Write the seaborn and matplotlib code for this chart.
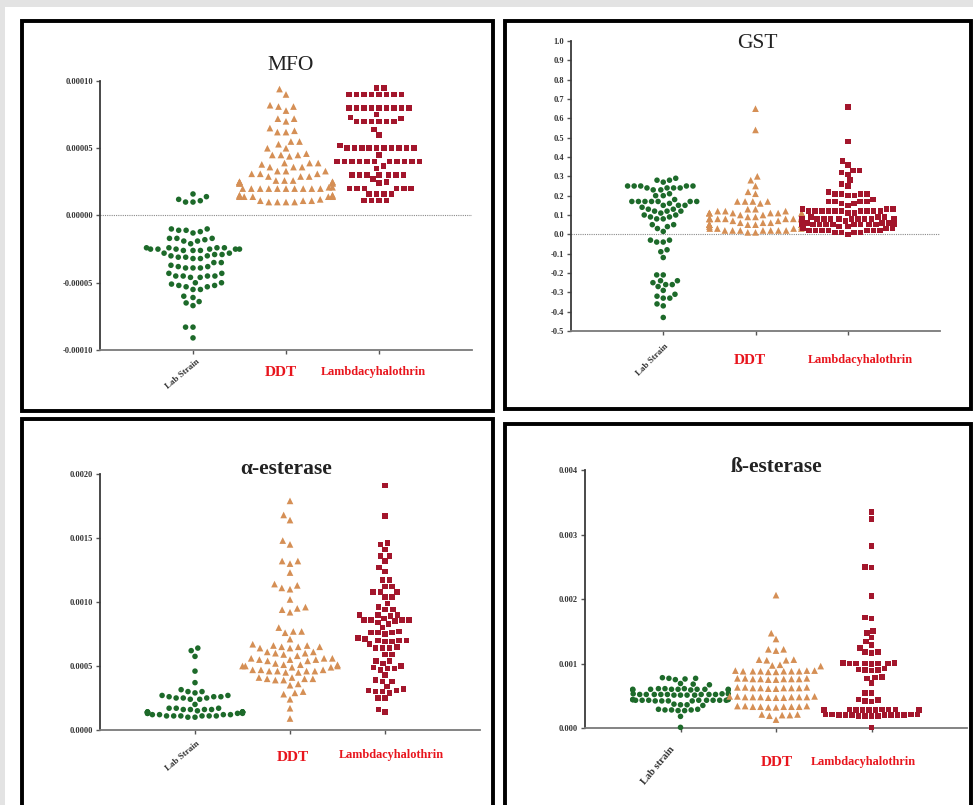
import numpy as np
import pandas as pd
import matplotlib
matplotlib.use("Agg")
import matplotlib.pyplot as plt
from matplotlib.patches import Rectangle
import seaborn as sns

SERIF = "Liberation Serif"
plt.rcParams["font.family"] = [SERIF, "DejaVu Serif"]

categories = ["Lab Strain", "DDT", "Lambdacyhalothrin"]

# ---------------- MFO (values x 1e-5) ----------------
mfo_lab = [1.6, 1.4, 1.2, 1.1, 1.0, 1.0,
           -1.0, -1.1, -1.3, -1.2, -1.1, -1.0,
           -1.7, -1.8, -1.9, -2.1, -1.9, -1.7, -1.7,
           -2.4, -2.4, -2.5, -2.5, -2.5, -2.6, -2.6, -2.6, -2.5, -2.5, -2.5, -2.4, -2.4,
           -2.8, -2.9, -3.0, -3.1, -3.2, -3.2, -3.1, -3.0, -2.9, -2.8,
           -3.5, -3.8, -3.9, -3.9, -3.9, -3.8, -3.7, -3.5,
           -4.3, -4.5, -4.5, -4.6, -4.6, -4.5, -4.5, -4.3,
           -5.0, -5.2, -5.3, -5.3, -5.2, -5.1, -5.0,
           -5.5, -5.5,
           -6.0, -6.1, -6.4, -6.5, -6.7,
           -8.3, -8.3, -9.1]
mfo_ddt = [9.4, 9.0, 8.2, 8.1, 8.1, 7.8, 7.2, 7.2, 7.0, 6.5, 6.2, 6.2, 6.3,
           5.5, 5.3, 5.5, 5.0, 5.0, 4.5, 4.5, 4.6, 4.5, 4.4,
           3.9, 3.9, 3.6, 3.6, 3.6, 3.8, 3.9,
           3.3, 3.1, 3.1, 2.9, 2.9, 2.9, 3.1, 3.3, 3.3,
           2.6, 2.5, 2.4, 2.5, 2.4, 2.4, 2.5, 2.4, 2.5, 2.4, 2.5, 2.6, 2.6,
           2.0, 2.0, 2.0, 2.1, 2.0, 2.0, 2.0, 2.0, 2.1, 2.0, 2.0, 2.0,
           1.4, 1.4, 1.5, 1.4, 1.4, 1.4, 1.4, 1.5, 1.4, 1.5, 1.5,
           1.1, 1.1, 1.0, 1.0, 1.0, 1.0, 1.1, 1.2]
mfo_lcy = [9.5, 9.5,
           9.0, 9.0, 9.0, 9.0, 9.0, 9.0, 9.0, 9.0,
           8.0, 8.0, 8.0, 8.0, 8.0, 8.0, 8.0, 8.0, 8.0,
           7.5, 7.2, 7.0, 7.0, 7.0, 7.0, 7.0, 7.0, 7.3,
           6.4, 6.0, 5.2,
           5.0, 5.0, 5.0, 5.0, 5.0, 5.0, 5.0, 5.0, 5.0, 5.0,
           4.5,
           4.0, 4.0, 4.0, 4.0, 4.0, 4.0, 4.0, 4.0, 4.0, 4.0, 4.0, 3.7, 3.5,
           3.0, 3.0, 3.0, 3.0, 3.0, 3.0, 3.0,
           2.7, 2.5, 2.4,
           2.0, 2.0, 2.0, 2.0, 2.0, 2.0,
           1.6, 1.6, 1.6, 1.6,
           1.1, 1.1, 1.1, 1.1]

# ---------------- GST ----------------
gst_lab = [0.28, 0.27, 0.28, 0.29, 0.24, 0.25, 0.24, 0.25, 0.25, 0.24, 0.25, 0.24, 0.25,
           0.23, 0.21, 0.23, 0.20, 0.20, 0.18,
           0.17, 0.17, 0.17, 0.17, 0.16, 0.17, 0.17, 0.17,
           0.15, 0.15, 0.14, 0.13, 0.12, 0.12, 0.13, 0.15,
           0.11, 0.10, 0.09, 0.12, 0.09, 0.10, 0.08, 0.08,
           0.05, 0.04, 0.03, 0.05, 0.015,
           -0.03, -0.04, -0.03, -0.04, -0.08, -0.09, -0.12,
           -0.21, -0.21, -0.24, -0.25, -0.26, -0.27, -0.26, -0.24, -0.29,
           -0.32, -0.33, -0.33, -0.31, -0.36, -0.37, -0.43]
gst_ddt = [0.65, 0.54, 0.30, 0.28, 0.25, 0.22, 0.21, 0.17, 0.17, 0.16, 0.17, 0.17, 0.13, 0.13, 0.12,
           0.11, 0.12, 0.11, 0.11, 0.10, 0.11, 0.11, 0.10, 0.11, 0.12, 0.11, 0.11,
           0.08, 0.08, 0.09, 0.08, 0.07, 0.08, 0.08, 0.09, 0.08, 0.07, 0.08, 0.08, 0.09, 0.08, 0.08,
           0.05, 0.05, 0.06, 0.05, 0.04, 0.05, 0.05, 0.06, 0.05, 0.04, 0.05, 0.05, 0.06, 0.05, 0.05,
           0.03, 0.02, 0.02, 0.03, 0.02, 0.01, 0.02, 0.01, 0.02, 0.03, 0.02, 0.02, 0.03]
gst_lcy = [0.66, 0.48, 0.38, 0.36, 0.33, 0.32, 0.31, 0.33, 0.28, 0.26, 0.25,
           0.22, 0.20, 0.21, 0.21, 0.21, 0.21, 0.20, 0.18,
           0.16, 0.17, 0.17, 0.17, 0.17, 0.15, 0.16,
           0.12, 0.12, 0.13, 0.12, 0.11, 0.12, 0.12, 0.13, 0.12, 0.11, 0.12, 0.12, 0.13, 0.12, 0.12,
           0.08, 0.09, 0.08, 0.08, 0.07, 0.08, 0.09, 0.08, 0.08, 0.07, 0.08, 0.09, 0.08, 0.08, 0.08,
           0.05, 0.05, 0.06, 0.05, 0.04, 0.05, 0.05, 0.06, 0.05, 0.04, 0.05, 0.05, 0.06, 0.05, 0.05,
           0.02, 0.02, 0.03, 0.02, 0.01, 0.02, 0.01, 0.00, 0.01, 0.02, 0.01, 0.02, 0.03, 0.02, 0.03]

# ---------------- alpha-esterase (values x 1e-4) ----------------
alpha_lab = [6.4, 6.2, 5.75, 4.6, 3.7,
             3.15, 3.0, 2.9, 3.0,
             2.7, 2.6, 2.5, 2.5, 2.4, 2.4, 2.5, 2.6, 2.6, 2.7,
             2.0, 1.7, 1.6, 1.6, 1.5, 1.6, 1.7, 1.6, 1.7,
             1.4, 1.4, 1.3, 1.4, 1.4, 1.3, 1.4, 1.3, 1.4, 1.4, 1.3, 1.4, 1.4,
             1.2, 1.1, 1.2, 1.1, 1.0, 1.1, 1.0, 1.1, 1.2, 1.1, 1.2, 1.1]
alpha_ddt = [17.9, 16.8, 16.4, 14.8, 14.5, 13.2, 13.0, 13.2, 12.3,
             11.3, 11.0, 11.1, 11.4, 10.2, 9.5, 9.2, 9.6, 9.4,
             8.0, 7.7, 7.7, 7.6, 7.1,
             6.6, 6.5, 6.4, 6.5, 6.6, 6.4, 6.5, 6.7,
             6.1, 6.0, 5.9, 6.0, 5.8, 6.1,
             5.6, 5.5, 5.4, 5.5, 5.6, 5.4, 5.5, 5.6,
             5.1, 5.0, 4.9, 5.0, 5.1, 4.9, 5.0, 5.1, 5.2,
             4.7, 4.6, 4.5, 4.6, 4.7, 4.6, 4.5, 4.7, 4.6,
             4.0, 3.9, 4.1, 4.0, 3.9, 4.0, 4.1,
             3.5, 3.6, 3.0, 2.8, 2.9, 2.4, 1.7, 0.9]
alpha_lcy = [19.1, 16.7, 14.6, 14.5, 14.1, 13.6, 13.6, 13.2, 12.7, 12.4,
             11.7, 11.7, 11.2, 11.2, 10.8, 10.8, 10.8, 10.4, 10.4,
             9.6, 9.9, 9.4, 9.4, 9.0, 9.0, 9.0, 8.9,
             8.6, 8.6, 8.7, 8.6, 8.5, 8.6, 8.3, 8.4,
             8.0, 7.6, 7.6, 7.7, 7.6, 7.5,
             7.1, 7.0, 7.0, 6.9, 7.0, 6.9, 7.2, 6.7,
             6.4, 6.4, 6.5, 6.4, 5.9, 5.9,
             5.4, 5.4, 5.2, 4.8, 4.9, 4.7, 4.8, 5.0,
             4.3, 3.8, 3.8, 3.9,
             3.4, 3.1, 3.0, 3.0, 3.1, 3.2, 2.9,
             2.5, 2.5, 1.4, 1.6]

# ---------------- beta-esterase (values x 1e-4) ----------------
beta_lab = [7.7, 7.8, 7.6, 7.7, 7.5, 6.8, 6.9, 6.7,
            6.0, 6.1, 6.0, 5.9, 6.0, 6.1, 6.0, 5.9, 6.0, 6.1, 6.0, 5.9, 6.0,
            5.2, 5.1, 5.2, 5.3, 5.2, 5.1, 5.2, 5.3, 5.2, 5.1, 5.2, 5.3, 5.2, 5.1, 5.2,
            4.3, 4.2, 4.3, 4.4, 4.3, 4.2, 4.3, 4.4, 4.3, 4.2, 4.3, 4.4, 4.3, 4.2, 4.3,
            3.6, 3.5, 3.6, 3.7,
            2.9, 2.8, 2.7, 2.8, 2.9, 2.8, 2.7,
            1.8, 0.1]
beta_ddt = [20.6, 14.7, 13.8, 12.2, 12.0, 12.2, 10.6, 10.5, 10.6, 10.5, 9.8, 9.6, 9.7,
            8.8, 8.9, 8.8, 8.7, 8.8, 8.9, 8.8, 8.7, 8.8, 8.9, 8.8,
            7.6, 7.7, 7.5, 7.6, 7.7, 7.6, 7.5, 7.6, 7.7, 7.6,
            6.2, 6.3, 6.1, 6.2, 6.3, 6.2, 6.1, 6.2, 6.3, 6.2,
            4.8, 4.9, 4.7, 4.8, 4.9, 4.8, 4.7, 4.8, 4.9, 4.8, 4.7, 4.8,
            3.3, 3.4, 3.2, 3.3, 3.4, 3.3, 3.2, 3.3, 3.4, 3.3,
            2.0, 2.1, 1.9, 2.0, 2.1, 1.3]
beta_lcy = [33.5, 32.4, 28.2, 25.0, 24.9, 20.5, 17.1, 17.0,
            14.7, 15.0, 14.0, 13.4, 12.9, 12.4, 11.6, 11.8, 11.8,
            10.1, 10.0, 10.0, 9.9, 10.0, 10.1, 10.0, 10.0,
            9.0, 9.1, 8.9, 9.0, 9.2, 7.8, 7.9, 7.7, 7.0, 5.4, 5.4,
            4.2, 4.3, 4.1, 4.4,
            2.8, 2.9, 2.7, 2.8, 2.9, 2.8, 2.7, 2.8, 2.9, 2.8, 2.7, 2.8, 2.9, 2.8, 2.7,
            2.0, 2.1, 1.9, 2.0, 2.1, 2.0, 1.9, 2.0, 2.1, 2.0, 1.9, 2.0, 2.1, 2.0, 1.9,
            0.1]

# ---------------- tick labels ----------------
mfo_ticks = [-0.00010, -0.00005, 0.0, 0.00005, 0.00010]
mfo_ticklabels = ["-0.00010", "-0.00005", "0.00000", "0.00005", "0.00010"]
gst_ticks = [-0.5, -0.4, -0.3, -0.2, -0.1, 0.0, 0.1, 0.2, 0.3, 0.4, 0.5, 0.6, 0.7, 0.8, 0.9, 1.0]
gst_ticklabels = ["-0.5", "-0.4", "-0.3", "-0.2", "-0.1", "0.0", "0.1", "0.2", "0.3", "0.4",
                  "0.5", "0.6", "0.7", "0.8", "0.9", "1.0"]
alpha_ticks = [0.0, 0.0005, 0.0010, 0.0015, 0.0020]
alpha_ticklabels = ["0.0000", "0.0005", "0.0010", "0.0015", "0.0020"]
beta_ticks = [0.0, 0.001, 0.002, 0.003, 0.004]
beta_ticklabels = ["0.000", "0.001", "0.002", "0.003", "0.004"]

GREEN = "#1d6a2a"
ORANGE = "#d58f55"
RED = "#a3162c"
LABEL_RED = "#e8151d"

# category slots: spacing 0.8 so seaborn's swarm width (0.8 of native width) fills a slot
SLOT = 0.8
positions = [0.0, SLOT, 2 * SLOT]

W, H = 973, 805
fig = plt.figure(figsize=(W / 100, H / 100), dpi=100)
fig.patch.set_facecolor("#e3e3e3")


def fx(px):
    return px / W


def fy(py):
    return 1 - py / H


fig.add_artist(Rectangle((fx(5), 0), fx(W) - fx(5), fy(7), transform=fig.transFigure,
                         facecolor="white", edgecolor="none", zorder=0))

for (l, t, r, b) in [(22, 21, 493, 411), (505, 21, 971, 409), (22, 419, 493, 820), (505, 424, 971, 820)]:
    fig.add_artist(Rectangle((fx(l), fy(b)), fx(r) - fx(l), fy(t) - fy(b), transform=fig.transFigure,
                             facecolor="none", edgecolor="black", linewidth=2.8, zorder=1))

panels = [
    dict(rect=(100, 81, 472, 350), data=(mfo_lab, mfo_ddt, mfo_lcy), scale=1e-5, ylim=(-0.00010, 0.00010),
         ticks=mfo_ticks, ticklabels=mfo_ticklabels, zero=True, pad=1.1,
         title="MFO", tpos=(291, 65), tbold=False,
         lab=("Lab Strain", 3, -8, 40, 6.5), ddt=(-5, -22), lcy=(-6, -22)),
    dict(rect=(571, 41, 940, 331), data=(gst_lab, gst_ddt, gst_lcy), scale=1.0, ylim=(-0.5, 1.0),
         ticks=gst_ticks, ticklabels=gst_ticklabels, zero=True, pad=0.5,
         title="GST", tpos=(757, 43), tbold=False,
         lab=("Lab Strain", 1, -11, 45, 6.5), ddt=(-6, -29), lcy=(13, -29)),
    dict(rect=(100, 474, 480, 730), data=(alpha_lab, alpha_ddt, alpha_lcy), scale=1e-4, ylim=(0.0, 0.0020),
         ticks=alpha_ticks, ticklabels=alpha_ticklabels, zero=False, pad=0.9,
         title="\u03b1-esterase", tpos=(286, 469), tbold=True,
         lab=("Lab Strain", 1, -10, 40, 6.5), ddt=(3, -27), lcy=(6, -25)),
    dict(rect=(585, 470, 967, 728), data=(beta_lab, beta_ddt, beta_lcy), scale=1e-4, ylim=(0.0, 0.004),
         ticks=beta_ticks, ticklabels=beta_ticklabels, zero=False, pad=0.5,
         title="\u00df-esterase", tpos=(776, 467), tbold=True,
         lab=("Lab strain", -11, -17, 50, 7.5), ddt=(1, -34), lcy=(-8, -34)),
]

styles = [("o", GREEN, 4.0), ("^", ORANGE, 4.8), ("s", RED, 4.0)]
PX2PT = 0.72

for p in panels:
    l, t, r, b = p["rect"]
    ax = fig.add_axes([fx(l), fy(b), fx(r) - fx(l), fy(t) - fy(b)])
    ax.set_facecolor("none")
    frames = []
    for pos, vals in zip(positions, p["data"]):
        frames.append(pd.DataFrame({"pos": pos, "value": np.asarray(vals, float) * p["scale"]}))
    df = pd.concat(frames, ignore_index=True)
    if p["zero"]:
        ax.axhline(0, color="#8a8a8a", linestyle=(0, (1, 1)), linewidth=0.8, zorder=1)
    for pos, (m, c, s) in zip(positions, styles):
        sub = df[df["pos"] == pos]
        sns.swarmplot(data=sub, x="pos", y="value", native_scale=True, orient="x", marker=m, color=c,
                      size=s, linewidth=p["pad"], edgecolor="none", ax=ax,
                      clip_on=False, warn_thresh=1.0, zorder=3)
    ax.set_xlim(-SLOT, 3 * SLOT)
    ax.set_ylim(*p["ylim"])
    ax.set_xlabel("")
    ax.set_ylabel("")
    ax.set_yticks(p["ticks"])
    ax.set_yticklabels(p["ticklabels"], fontsize=6, fontweight="bold", family=SERIF, color="#333333")
    ax.set_xticks(positions)
    ax.set_xticklabels(["", "", ""])
    ax.tick_params(axis="both", direction="out", length=3, width=1, color="#555555", pad=2)
    for s in ["top", "right"]:
        ax.spines[s].set_visible(False)
    ax.spines["left"].set_color("#3a3a3a")
    ax.spines["left"].set_linewidth(1.3)
    ax.spines["bottom"].set_color("#7a7a7a")
    ax.spines["bottom"].set_linewidth(1.3)

    txt, dx, dy, rot, fs = p["lab"]
    ax.annotate(txt, xy=(positions[0], 0), xycoords=("data", "axes fraction"), xytext=(dx * PX2PT, dy * PX2PT),
                textcoords="offset points", rotation=rot, rotation_mode="anchor", ha="right", va="top",
                fontsize=fs, fontweight="bold", family=SERIF, color="#333333")
    dx, dy = p["ddt"]
    ax.annotate(categories[1], xy=(positions[1], 0), xycoords=("data", "axes fraction"),
                xytext=(dx * PX2PT, dy * PX2PT), textcoords="offset points", ha="center", va="center",
                fontsize=11, fontweight="bold", family=SERIF, color=LABEL_RED)
    dx, dy = p["lcy"]
    ax.annotate(categories[2], xy=(positions[2], 0), xycoords=("data", "axes fraction"),
                xytext=(dx * PX2PT, dy * PX2PT), textcoords="offset points", ha="center", va="center",
                fontsize=8.8, fontweight="bold", family=SERIF, color=LABEL_RED)

    tx, ty = p["tpos"]
    fig.text(fx(tx), fy(ty), p["title"], ha="center", va="center", fontsize=15.5,
             fontweight="bold" if p["tbold"] else "normal", family=SERIF, color="#222222")

fig.savefig("out.png", dpi=100, facecolor=fig.get_facecolor())
